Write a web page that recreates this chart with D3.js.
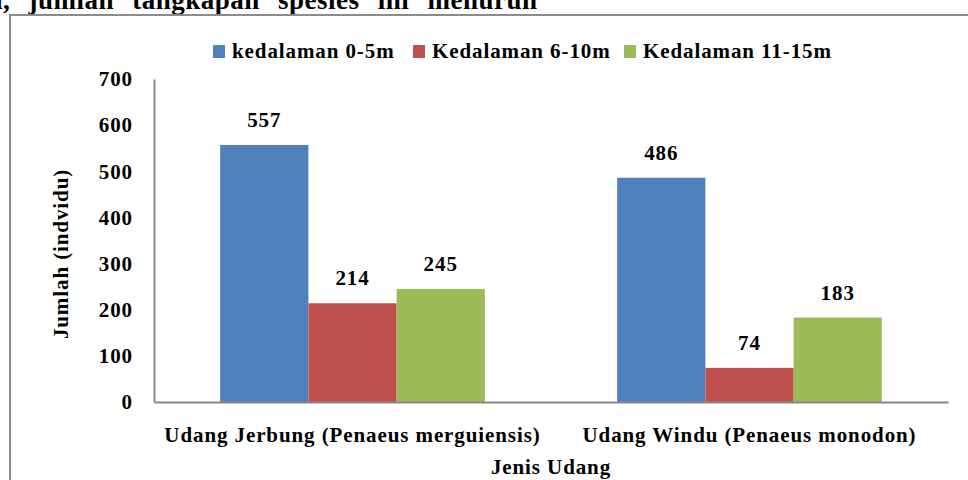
<!DOCTYPE html>
<html>
<head>
<meta charset="utf-8">
<script src="https://cdn.jsdelivr.net/npm/d3@7"></script>
<style>
  body { margin: 0; background: #fff; }
  svg { display: block; font-family: "Liberation Serif", serif; font-weight: bold; }
  svg text { letter-spacing: 0.9px; }
</style>
</head>
<body>
<svg id="drawing_region"></svg>
<script>
const categories = ['Udang Jerbung (Penaeus merguiensis)', 'Udang Windu (Penaeus monodon)'];
const seriesNames = ['kedalaman 0-5m', 'Kedalaman 6-10m', 'Kedalaman 11-15m'];
const seriesColors = ['#4f81bd', '#c0504d', '#9bbb59'];
const depth0to5 = [557, 486];
const depth6to10 = [214, 74];
const depth11to15 = [245, 183];
const yTicks = [0, 100, 200, 300, 400, 500, 600, 700];

const seriesValues = [depth0to5, depth6to10, depth11to15];
const data = [];
categories.forEach((c, i) => {
    seriesNames.forEach((s, j) => {
        data.push({ cat: c, series: s, value: seriesValues[j][i] });
    });
});

const width = 968, height = 480;
const fontSize = 21;
const svg = d3.select('#drawing_region')
    .attr('width', width)
    .attr('height', height);

// caption text cut off at the top of the picture
svg.append('text')
    .attr('x', -11)
    .attr('y', 9)
    .attr('font-size', 27)
    .attr('word-spacing', 11)
    .style('letter-spacing', '0.5px')
    .attr('fill', '#000')
    .text('a, jumlah tangkapan spesies ini menurun');

// chart frame
svg.append('rect')
    .attr('x', 10)
    .attr('y', 15)
    .attr('width', 1000)
    .attr('height', 500)
    .attr('fill', 'none')
    .attr('stroke', '#8c8c8c')
    .attr('stroke-width', 2);

const plot = { left: 154, right: 948, top: 79, bottom: 402 };

const x0 = d3.scaleBand()
    .domain(categories)
    .range([plot.left, plot.right])
    .padding(0);

const bw = x0.bandwidth();
const x1 = d3.scaleBand()
    .domain(seriesNames)
    .range([bw / 6, bw * 5 / 6])
    .padding(0);

const y = d3.scaleLinear()
    .domain([0, 700])
    .range([plot.bottom, plot.top]);

const color = d3.scaleOrdinal().domain(seriesNames).range(seriesColors);

// bars
svg.append('g').selectAll('rect')
    .data(data)
    .join('rect')
    .attr('x', d => x0(d.cat) + x1(d.series))
    .attr('y', d => y(d.value))
    .attr('width', x1.bandwidth())
    .attr('height', d => y(0) - y(d.value))
    .attr('fill', d => color(d.series));

// value labels
svg.append('g').selectAll('text')
    .data(data)
    .join('text')
    .attr('x', d => x0(d.cat) + x1(d.series) + x1.bandwidth() / 2)
    .attr('y', d => y(d.value) - 18)
    .attr('text-anchor', 'middle')
    .attr('font-size', fontSize)
    .attr('fill', '#000')
    .text(d => d.value);

// y axis
const yaxis = d3.axisLeft(y)
    .tickValues(yTicks)
    .tickSize(0)
    .tickSizeOuter(0)
    .tickPadding(21);

const yg = svg.append('g')
    .attr('transform', `translate(${plot.left},0)`)
    .call(yaxis);
yg.select('.domain').attr('stroke', '#868686').attr('stroke-width', 2);
yg.selectAll('text')
    .attr('font-family', '"Liberation Serif", serif')
    .attr('font-weight', 'bold')
    .attr('font-size', fontSize)
    .attr('fill', '#000');

// x axis
const xaxis = d3.axisBottom(x0)
    .tickSize(0)
    .tickSizeOuter(0)
    .tickPadding(25);

const xg = svg.append('g')
    .attr('transform', `translate(0,${plot.bottom})`)
    .call(xaxis);
xg.select('.domain').attr('stroke', '#868686').attr('stroke-width', 2);
xg.selectAll('text')
    .attr('font-family', '"Liberation Serif", serif')
    .attr('font-weight', 'bold')
    .attr('font-size', fontSize)
    .attr('fill', '#000');

// axis titles
svg.append('text')
    .attr('x', (plot.left + plot.right) / 2)
    .attr('y', 474)
    .attr('text-anchor', 'middle')
    .attr('font-size', fontSize)
    .text('Jenis Udang');

svg.append('text')
    .attr('transform', 'translate(68,254) rotate(-90)')
    .attr('text-anchor', 'middle')
    .attr('font-size', fontSize)
    .text('Jumlah (indvidu)');

// legend
const legendX = [213, 413, 624];
const legend = svg.append('g').selectAll('g')
    .data(seriesNames)
    .join('g')
    .attr('transform', (d, i) => `translate(${legendX[i]},45)`);

legend.append('rect')
    .attr('width', 12)
    .attr('height', 13)
    .attr('fill', d => color(d));

legend.append('text')
    .attr('x', 19)
    .attr('y', 13)
    .attr('font-size', fontSize)
    .text(d => d);
</script>
</body>
</html>
